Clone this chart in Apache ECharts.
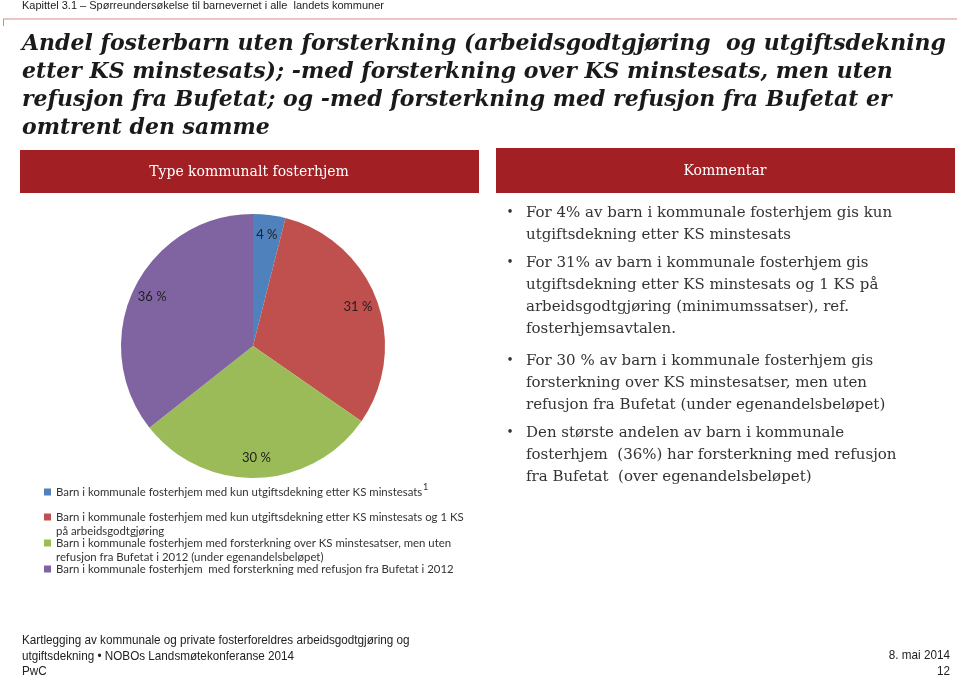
<!DOCTYPE html>
<html><head><meta charset="utf-8">
<script src="https://cdn.jsdelivr.net/npm/echarts@6/dist/echarts.min.js"></script>
<style>html,body{margin:0;padding:0;background:#fff}#c{width:960px;height:677px}</style>
</head><body><div id="c"></div>
<script>
const categories = [
  'Barn i kommunale fosterhjem med kun utgiftsdekning etter KS minstesats',
  'Barn i kommunale fosterhjem med kun utgiftsdekning etter KS minstesats og 1 KS\npå arbeidsgodtgjøring',
  'Barn i kommunale fosterhjem med forsterkning over KS minstesatser, men uten\nrefusjon fra Bufetat i 2012 (under egenandelsbeløpet)',
  'Barn i kommunale fosterhjem  med forsterkning med refusjon fra Bufetat i 2012'
];
const shares = [4, 31, 30, 36];
const sliceColors = ['#4F81BD', '#C0504D', '#9BBB59', '#8064A2'];
const titleLines = [
  'Andel fosterbarn uten forsterkning (arbeidsgodtgjøring  og utgiftsdekning',
  'etter KS minstesats); -med forsterkning over KS minstesats, men uten',
  'refusjon fra Bufetat; og -med forsterkning med refusjon fra Bufetat er',
  'omtrent den samme'
];
const bullets = [
  ['For 4% av barn i kommunale fosterhjem gis kun', 'utgiftsdekning etter KS minstesats'],
  ['For 31% av barn i kommunale fosterhjem gis', 'utgiftsdekning etter KS minstesats og 1 KS på', 'arbeidsgodtgjøring (minimumssatser), ref.', 'fosterhjemsavtalen.'],
  ['For 30 % av barn i kommunale fosterhjem gis', 'forsterkning over KS minstesatser, men uten', 'refusjon fra Bufetat (under egenandelsbeløpet)'],
  ['Den største andelen av barn i kommunale', 'fosterhjem  (36%) har forsterkning med refusjon', 'fra Bufetat  (over egenandelsbeløpet)']
];
const bulletTops = [213, 263, 361, 433];

const chart = echarts.init(document.getElementById('c'));
const serif = '"DejaVu Serif", Georgia, serif';
const graphics = [];
// header
graphics.push({type:'text', x:22, y:6, style:{text:'Kapittel 3.1 – Spørreundersøkelse til barnevernet i alle  landets kommuner', font:'11px "Liberation Sans", Arial, sans-serif', fill:'#222', verticalAlign:'middle'}});
graphics.push({type:'line', shape:{x1:3, y1:19, x2:957, y2:19}, style:{stroke:'#D98A88', lineWidth:1}});
graphics.push({type:'line', shape:{x1:3.5, y1:19, x2:3.5, y2:26}, style:{stroke:'#D98A88', lineWidth:1}});
// title
graphics.push({type:'text', x:22, y:30, style:{text:titleLines.join('\n'), font:'italic bold 22px ' + serif, fill:'#1a1a1a', lineHeight:28, verticalAlign:'top'}});
// boxes
graphics.push({type:'rect', shape:{x:20, y:150, width:459, height:43}, style:{fill:'#A21F24'}});
graphics.push({type:'rect', shape:{x:496, y:148, width:459, height:45}, style:{fill:'#A21F24'}});
graphics.push({type:'text', x:249, y:172, style:{text:'Type kommunalt fosterhjem', font:'14px ' + serif, fill:'#fff', align:'center', verticalAlign:'middle'}});
graphics.push({type:'text', x:725, y:171, style:{text:'Kommentar', font:'14px ' + serif, fill:'#fff', align:'center', verticalAlign:'middle'}});
// bullets
bullets.forEach((b, i) => {
  graphics.push({type:'text', x:510, y:bulletTops[i], style:{text:'•', font:'12px ' + serif, fill:'#333', align:'center', verticalAlign:'middle'}});
  graphics.push({type:'text', x:526, y:bulletTops[i] - 11, style:{text:b.join('\n'), font:'15px ' + serif, fill:'#333', lineHeight:22, verticalAlign:'top'}});
});
// superscript footnote
graphics.push({type:'text', x:423, y:487, style:{text:'1', font:'9px Lato, sans-serif', fill:'#333', verticalAlign:'middle'}});
// footer
const narrow = '13px "Liberation Sans", Arial, sans-serif';
graphics.push({type:'text', x:22, y:633, scaleX:0.9, style:{text:'Kartlegging av kommunale og private fosterforeldres arbeidsgodtgjøring og\nutgiftsdekning • NOBOs Landsmøtekonferanse 2014\nPwC', font:narrow, fill:'#222', lineHeight:15.5, verticalAlign:'top'}});
graphics.push({type:'text', x:950, y:648, scaleX:0.9, style:{text:'8. mai 2014\n12', font:narrow, fill:'#222', lineHeight:15.5, align:'right', verticalAlign:'top'}});

const legendTops = [485, 496, 522, 562];
const legends = categories.map((name, i) => ({
  left: 44, top: legendTops[i], padding: 0, orient: 'vertical',
  itemWidth: 7, itemHeight: 7, icon: 'rect', selectedMode: false,
  data: [name],
  formatter: n => (n.indexOf('\n') >= 0 ? '\n' + n : n),
  textStyle: {fontFamily: 'Lato, sans-serif', fontSize: 11.4, color: '#333', lineHeight: 14}
}));

const pieData = categories.map((n, i) => ({name: n, value: shares[i], itemStyle: {color: sliceColors[i]}}));
chart.setOption({
  animation: false,
  legend: legends,
  graphic: graphics,
  series: [
    {type:'pie', center:[253, 346], radius:[0, 132], startAngle:90, clockwise:true,
     data: pieData, label:{show:false}, labelLine:{show:false}, emphasis:{disabled:true}, silent:true},
    {type:'pie', center:[253, 346], radius:[100, 118], startAngle:90, clockwise:true,
     data: categories.map((n, i) => ({name: n, value: shares[i], itemStyle:{color:'rgba(0,0,0,0)'}})),
     label:{show:true, position:'inside', formatter: p => p.value + ' %', fontFamily:'Lato, sans-serif', fontSize:13, color:'#222'},
     labelLine:{show:false}, emphasis:{disabled:true}, silent:true}
  ]
});
</script></body></html>
